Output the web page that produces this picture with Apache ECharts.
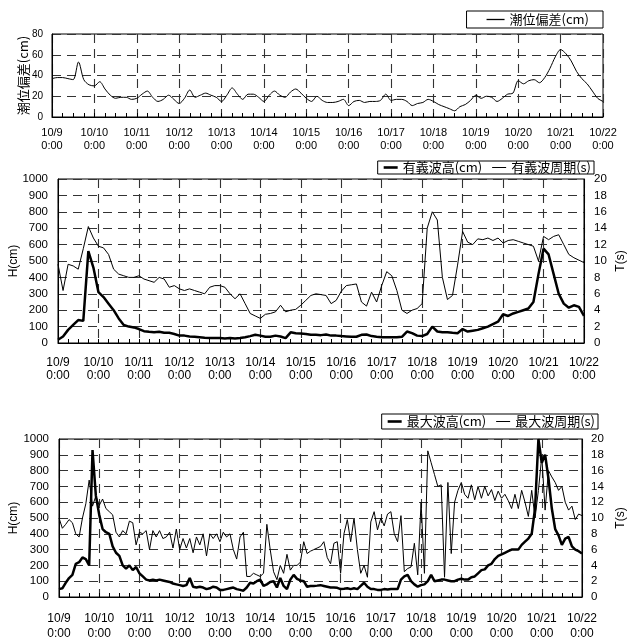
<!DOCTYPE html>
<html>
<head>
<meta charset="utf-8">
<script src="https://cdn.jsdelivr.net/npm/echarts@6/dist/echarts.min.js"></script>
<style>
html,body{margin:0;padding:0;background:#fff;}
#c{width:635px;height:641px;}
</style>
</head>
<body>
<div id="c"></div>
<script>
// Tick labels (one per day, 0:00)
const dayLabels = ['10/9','10/10','10/11','10/12','10/13','10/14','10/15','10/16','10/17','10/18','10/19','10/20','10/21','10/22'];
const timeLabel = '0:00';

// Tide deviation (cm), every 3 hours from 10/9 0:00
const tide = [
  37,38,38,37,36,53,36,31,
  30,34,27,21,18,19,19,17,
  18,22,25,19,15,17,21,17,
  13,18,26,19,21,23,21,19,
  15,21,28,22,17,22,22,19,
  15,21,25,21,19,24,27,23,
  18,15,20,16,14,14,15,17,
  11,15,16,14,15,15,16,22,
  16,17,17,15,11,13,14,17,
  15,12,10,8,6,10,12,16,
  21,18,20,19,15,18,22,23,
  35,32,35,36,33,38,47,58,
  65,61,54,44,37,32,25,18,
  15
];

// Significant wave height (cm), every 3 hours
const h13 = [
  20,40,80,110,140,135,560,460,
  310,280,240,200,150,110,100,95,
  85,72,68,65,68,62,62,55,
  45,45,40,38,35,32,30,30,
  30,28,30,28,30,35,42,50,
  45,38,38,45,40,30,65,60,
  58,55,50,50,48,52,45,45,
  42,40,38,38,50,52,42,38,
  35,35,35,35,38,70,60,45,
  42,55,100,70,65,65,62,60,
  85,70,75,80,90,100,115,130,
  175,165,180,190,200,210,250,420,
  575,540,420,300,240,215,230,220,
  165
];

// Significant wave period (s), every 3 hours
const t13 = [
  9.6,6.4,9.6,9.4,9.0,11.5,14.2,12.8,
  11.8,11.6,10.8,9.0,8.4,8.2,8.0,8.0,
  8.2,7.8,7.6,7.4,8.0,7.8,6.8,7.0,
  6.6,6.4,6.6,6.4,6.2,6.0,6.8,7.0,
  7.0,6.8,6.0,5.4,6.0,4.8,3.6,3.3,
  3.0,3.5,3.6,3.8,4.6,3.8,4.0,4.1,
  4.6,5.2,5.8,6.0,5.9,5.8,4.8,5.2,
  6.3,7.0,7.1,7.2,5.0,4.5,6.2,5.0,
  7.0,8.7,8.2,6.4,4.0,3.6,4.0,4.2,
  4.8,14.0,16.0,15.0,8.0,5.3,5.8,9.5,
  13.6,12.3,12.0,12.7,12.6,12.8,12.5,12.8,
  12.2,12.5,12.6,12.4,12.2,12.0,11.8,10.0,
  13.0,12.6,13.0,13.2,12.0,10.8,10.4,10.1,
  9.8
];

// Maximum wave height (cm), every 2 hours
const hmax = [
  50,55,90,120,140,210,220,250,240,200,930,640,
  520,430,410,400,320,280,260,200,180,200,170,190,
  150,130,110,105,110,105,110,105,100,95,85,80,
  75,70,75,120,65,60,65,60,50,55,65,60,
  45,45,50,55,60,50,45,40,60,90,85,100,
  110,70,80,95,100,60,120,70,50,110,140,115,
  105,100,65,70,70,72,75,70,65,60,60,58,
  50,52,55,50,55,50,70,90,65,50,50,45,
  45,50,48,50,50,50,110,130,140,100,80,65,
  75,80,100,140,100,105,110,110,105,100,100,110,
  115,110,110,125,130,150,170,175,200,210,240,260,
  270,280,290,300,300,300,330,350,370,400,560,1000,
  850,900,750,560,430,390,330,370,380,320,300,290,
  275
];

// Maximum wave period (s), every 2 hours
const tmax = [
  10.0,8.7,9.2,9.8,9.4,8.0,7.6,10.0,11.8,14.8,11.5,12.8,
  11.6,12.4,11.2,10.8,10.4,8.2,7.6,8.4,8.0,9.6,9.4,6.6,
  8.2,8.0,8.4,6.0,8.4,7.6,8.4,7.4,7.6,8.2,6.2,8.6,
  6.0,7.4,6.2,7.4,5.6,7.6,6.6,8.0,5.2,8.0,7.4,8.0,
  7.0,8.2,7.6,8.0,6.0,4.8,7.6,8.2,2.6,2.6,3.0,2.8,
  2.6,3.0,9.2,6.0,3.2,2.2,4.0,3.0,5.4,3.4,4.0,4.0,
  4.4,7.0,5.5,5.8,6.0,6.2,6.4,7.0,5.0,4.2,6.8,7.0,
  3.0,8.0,9.8,7.0,10.0,6.0,3.0,4.0,2.5,9.5,10.8,8.5,
  10.0,9.0,10.5,10.8,8.0,7.0,10.3,3.2,3.6,3.8,6.8,2.8,
  12.0,3.0,18.5,17.0,15.5,14.0,14.2,2.5,14.5,5.5,12.0,13.5,
  14.5,13.0,12.5,14.2,12.3,14.0,12.5,14.0,12.8,13.6,12.2,13.4,
  12.5,13.0,12.2,11.2,13.0,11.2,13.5,12.0,10.2,13.5,10.0,13.5,
  17.8,11.0,16.0,15.2,14.5,13.5,14.0,12.0,11.0,11.5,9.8,10.5,
  10.3
];

const toXY = (arr, step) => arr.map((v, i) => [i * step, v]);

const FONT = '"Liberation Sans", Arial, "Noto Sans CJK JP", sans-serif';
const CJK = '"Noto Sans CJK JP", sans-serif';
const gridDash = { color: '#333', width: 1.1, type: [9, 6] };
const THIN_ICON = 'path://M0,0h40v2.9h-40z';
const THICK_ICON = 'path://M0,0h14v2.6h-14z';
const plain = v => String(v);

function xAxisFor(gi, fs, margin, lh) {
  return {
    type: 'value', gridIndex: gi, min: 0, max: 312, interval: 24,
    axisLine: { show: true, onZero: false, lineStyle: { color: '#000', width: 1 } },
    axisTick: { show: true, inside: true, length: 4, lineStyle: { color: '#000' } },
    minorTick: { show: true, splitNumber: 4, length: 4, lineStyle: { color: '#000' } },
    splitLine: { show: true, lineStyle: gridDash },
    axisLabel: {
      color: '#000', fontSize: fs, fontFamily: FONT, margin: margin, lineHeight: lh,
      formatter: v => dayLabels[Math.round(v / 24)] + '\n' + timeLabel
    }
  };
}

function yAxisFor(gi, max, interval, name, nameGap, nameFont, nameSize, pos, split, fs, margin) {
  return {
    type: 'value', gridIndex: gi, position: pos, min: 0, max: max, interval: interval,
    name: name, nameLocation: 'middle', nameRotate: 90, nameGap: nameGap, nameMoveOverlap: false,
    nameTextStyle: { fontSize: nameSize, fontFamily: nameFont, color: '#000' },
    axisLine: { show: true, lineStyle: { color: '#000' } }, axisTick: { show: false },
    splitLine: { show: split, lineStyle: gridDash },
    axisLabel: { color: '#000', fontSize: fs, fontFamily: FONT, margin: margin, formatter: plain }
  };
}

function legendFor(right, top, padding, itemWidth, items) {
  return {
    right: right, top: top, padding: padding, itemGap: 10, itemWidth: itemWidth, itemHeight: 10,
    borderColor: '#000', borderWidth: 1, backgroundColor: '#fff', borderRadius: 0,
    textStyle: { fontSize: 13, fontFamily: CJK, color: '#000' },
    data: items
  };
}

const chart = echarts.init(document.getElementById('c'), null, { renderer: 'canvas' });
chart.setOption({
  animation: false,
  backgroundColor: '#fff',
  grid: [
    { left: 52, top: 34, width: 551, height: 83, show: true, borderColor: '#000', borderWidth: 1, backgroundColor: 'transparent' },
    { left: 57, top: 179, width: 539, height: 164, show: true, borderColor: '#000', borderWidth: 1, backgroundColor: 'transparent' },
    { left: 58, top: 439, width: 543, height: 164, show: true, borderColor: '#000', borderWidth: 1, backgroundColor: 'transparent' }
  ],
  legend: [
    legendFor(32, 11, [2, 14, 2, 20], 18, [{ name: '潮位偏差(cm)', icon: THIN_ICON }]),
    legendFor(41, 161, [0, 3, 0, 6], 14, [{ name: '有義波高(cm)', icon: THICK_ICON }, { name: '有義波周期(s)', icon: THIN_ICON }]),
    legendFor(37, 414, [1, 3, 1, 6], 14, [{ name: '最大波高(cm)', icon: THICK_ICON }, { name: '最大波周期(s)', icon: THIN_ICON }])
  ],
  xAxis: [
    xAxisFor(0, 11, 9, 13),
    xAxisFor(1, 12, 13, 13),
    xAxisFor(2, 12, 14, 15)
  ],
  yAxis: [
    yAxisFor(0, 80, 20, '潮位偏差(cm)', 22, CJK, 13, 'left', true, 10, 9),
    yAxisFor(1, 1000, 100, 'H(cm)', 38, FONT, 12, 'left', true, 11.5, 10),
    yAxisFor(1, 20, 2, 'T(s)', 31, FONT, 12, 'right', false, 11.5, 10),
    yAxisFor(2, 1000, 100, 'H(cm)', 39, FONT, 12, 'left', true, 11.5, 10),
    yAxisFor(2, 20, 2, 'T(s)', 33, FONT, 12, 'right', false, 11.5, 9)
  ],
  series: [
    { name: '潮位偏差(cm)', type: 'line', xAxisIndex: 0, yAxisIndex: 0, symbol: 'none', smooth: 0.3,
      lineStyle: { color: '#000', width: 1 }, itemStyle: { color: '#000' }, data: toXY(tide, 3) },
    { name: '有義波周期(s)', type: 'line', xAxisIndex: 1, yAxisIndex: 2, symbol: 'none',
      lineStyle: { color: '#000', width: 1 }, itemStyle: { color: '#000' }, data: toXY(t13, 3) },
    { name: '有義波高(cm)', type: 'line', xAxisIndex: 1, yAxisIndex: 1, symbol: 'none',
      lineStyle: { color: '#000', width: 2.5 }, itemStyle: { color: '#000' }, data: toXY(h13, 3) },
    { name: '最大波周期(s)', type: 'line', xAxisIndex: 2, yAxisIndex: 4, symbol: 'none',
      lineStyle: { color: '#000', width: 1 }, itemStyle: { color: '#000' }, data: toXY(tmax, 2) },
    { name: '最大波高(cm)', type: 'line', xAxisIndex: 2, yAxisIndex: 3, symbol: 'none',
      lineStyle: { color: '#000', width: 2.5 }, itemStyle: { color: '#000' }, data: toXY(hmax, 2) }
  ]
});
</script>
</body>
</html>
